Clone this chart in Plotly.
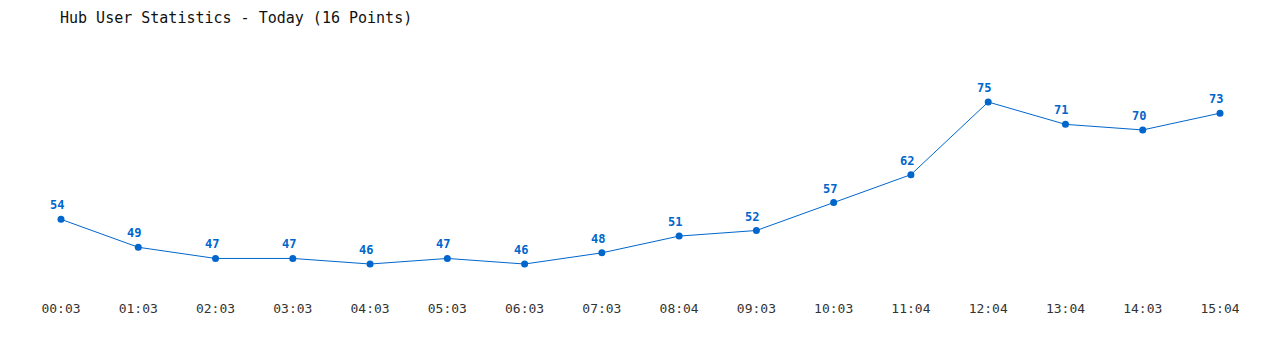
import plotly.graph_objects as go

times = ["00:03", "01:03", "02:03", "03:03", "04:03", "05:03", "06:03", "07:03",
         "08:04", "09:03", "10:03", "11:04", "12:04", "13:04", "14:03", "15:04"]
users = [54, 49, 47, 47, 46, 47, 46, 48, 51, 52, 57, 62, 75, 71, 70, 73]

idx = list(range(len(times)))
blue = "#0066cc"

fig = go.Figure()
fig.add_trace(go.Scatter(
    x=idx, y=users, mode="lines+markers",
    line=dict(color=blue, width=1),
    marker=dict(color=blue, size=7),
    cliponaxis=False, hoverinfo="x+y",
))

for i, v in zip(idx, users):
    fig.add_annotation(x=i, y=v, text=str(v), showarrow=False,
                       xanchor="center", yanchor="bottom", xshift=-4, yshift=5,
                       font=dict(family="DejaVu Sans Mono", size=12, color=blue, weight="bold"))

fig.update_layout(
    width=1280, height=350,
    margin=dict(l=61, r=60, t=40, b=60),
    paper_bgcolor="white", plot_bgcolor="white",
    showlegend=False,
    title=dict(text="Hub User Statistics - Today (16 Points)", x=60/1280, xanchor="left",
               y=1-18/350, yanchor="middle",
               font=dict(family="DejaVu Sans Mono", size=15, color="#111111")),
    xaxis=dict(range=[0, 15], tickmode="array", tickvals=idx, ticktext=times,
               showgrid=False, zeroline=False, showline=False, ticks="",
               ticklabelstandoff=9,
               tickfont=dict(family="DejaVu Sans Mono", size=13, color="#333333")),
    yaxis=dict(range=[41.35, 86.1], showgrid=False, zeroline=False, showline=False,
               showticklabels=False, ticks=""),
)

fig.write_html("out.html")
